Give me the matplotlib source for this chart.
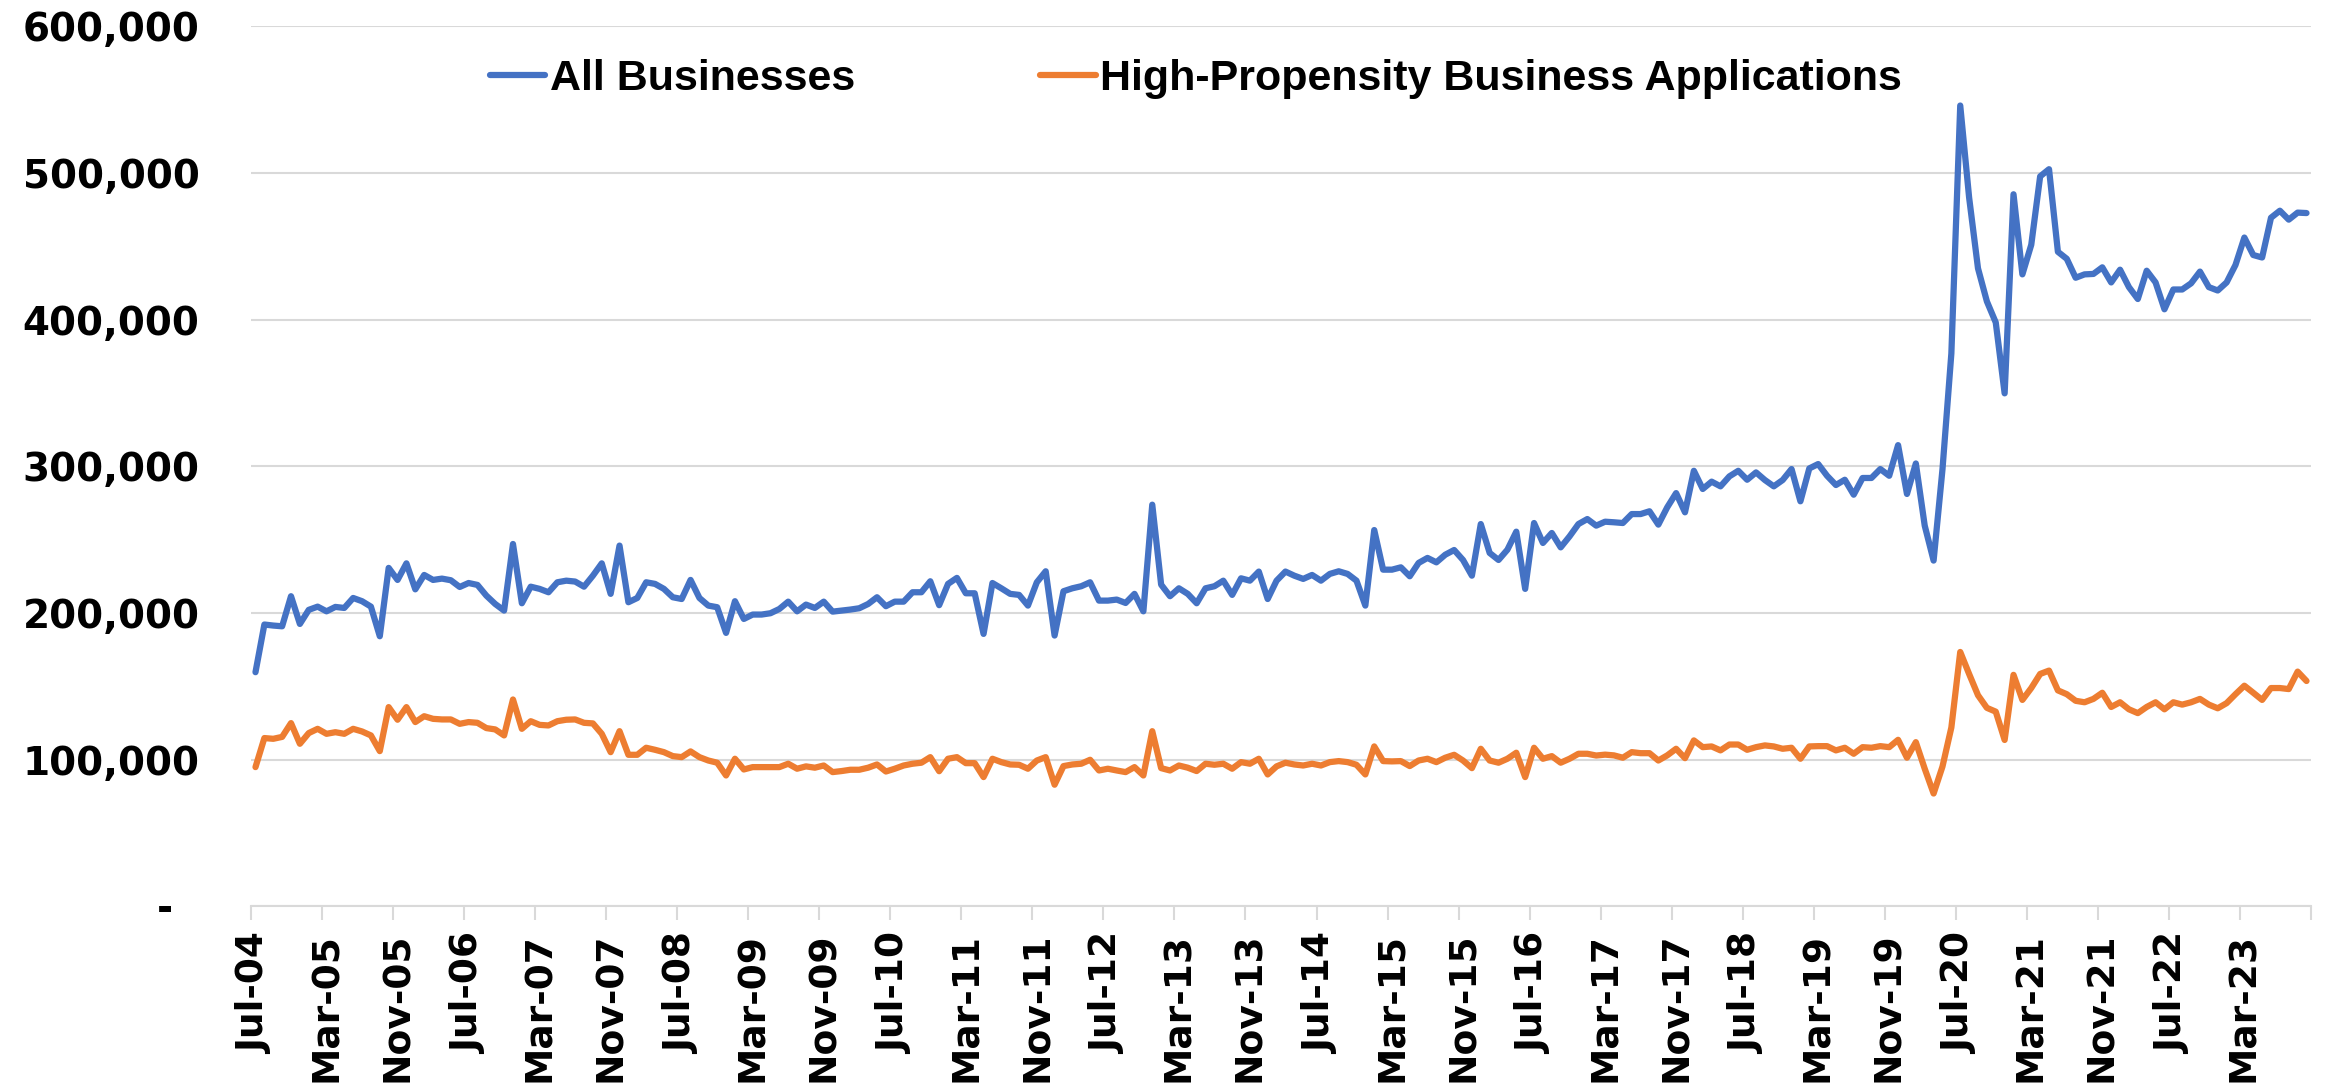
import matplotlib
matplotlib.use('Agg')
import matplotlib.pyplot as plt
import numpy as np
import pandas as pd

# monthly series, Jul-2004 .. Oct-2023 (thousands of applications)
all_businesses = [
    159.7, 192.2, 191.5, 191.0, 211.5, 192.6, 202.2, 204.4, 201.2, 204.2,
    203.5, 210.3, 208.1, 204.4, 184.2, 230.8, 222.6, 233.9, 216.2, 226.0,
    222.6, 223.5, 222.4, 217.8, 220.5, 219.2, 211.9, 206.2, 201.7, 247.1,
    206.7, 218.0, 216.5, 214.2, 221.0, 222.1, 221.5, 218.0, 225.5, 233.9,
    213.1, 246.0, 207.4, 210.3, 221.0, 219.9, 216.5, 210.8, 209.6, 222.6,
    210.3, 205.1, 204.0, 186.5, 208.1, 196.0, 199.0, 199.0, 199.9, 202.8,
    207.8, 201.2, 205.8, 203.5, 207.8, 201.0, 201.7, 202.4, 203.3, 206.2,
    210.8, 204.7, 207.8, 207.8, 214.2, 214.2, 221.7, 205.4, 219.9, 224.0,
    213.5, 213.5, 185.8, 220.5, 216.9, 213.1, 212.4, 205.1, 221.0, 228.5,
    184.7, 214.9, 216.9, 218.3, 221.0, 208.5, 208.5, 209.2, 206.9, 213.1,
    201.2, 273.9, 219.4, 211.5, 216.9, 213.1, 206.7, 216.9, 218.3, 222.1,
    212.4, 223.7, 222.1, 228.3, 209.6, 222.1, 228.3, 225.5, 223.3, 226.0,
    222.1, 226.7, 228.5, 226.7, 222.1, 205.1, 256.6, 229.6, 229.6, 231.2,
    225.1, 234.2, 237.6, 234.6, 239.8, 243.0, 236.2, 225.5, 260.7, 241.0,
    236.2, 243.2, 255.5, 216.5, 261.4, 247.8, 254.6, 244.8, 252.3, 260.7,
    264.1, 259.6, 262.3, 261.9, 261.4, 267.5, 267.5, 269.4, 260.3, 272.1,
    281.8, 268.7, 297.0, 284.6, 289.6, 286.4, 293.2, 297.0, 290.9, 295.9,
    290.7, 286.4, 290.7, 298.2, 276.2, 298.6, 301.6, 293.6, 287.3, 290.9,
    280.7, 292.1, 292.1, 298.2, 293.6, 314.5, 281.2, 302.0, 259.6, 235.8,
    298.0, 377.0, 546.0, 483.3, 435.0, 412.5, 398.1, 349.8, 485.5, 430.9,
    451.1, 497.7, 502.6, 446.3, 441.5, 428.6, 430.9, 431.2, 435.7, 425.4,
    434.1, 422.2, 414.1, 433.4, 425.4, 407.1, 420.6, 420.6, 424.8, 432.8,
    422.2, 419.9, 425.4, 437.3, 456.0, 444.1, 442.4, 469.5, 474.3, 468.2,
    473.0, 472.7,
]

high_propensity = [
    95.0, 114.8, 114.3, 115.6, 125.0, 110.9, 118.2, 121.1, 117.7, 118.8,
    117.7, 121.1, 119.3, 116.6, 105.9, 135.9, 127.3, 135.9, 125.7, 129.7,
    127.9, 127.5, 127.5, 124.5, 125.7, 125.2, 121.6, 120.7, 116.6, 141.1,
    121.1, 126.3, 123.8, 123.4, 126.3, 127.3, 127.5, 125.2, 124.8, 117.7,
    105.2, 119.5, 103.4, 103.4, 108.2, 106.8, 105.2, 102.5, 101.8, 105.7,
    101.8, 99.5, 98.0, 89.3, 100.7, 93.4, 95.0, 95.0, 95.0, 95.0,
    97.3, 93.9, 95.5, 94.6, 96.1, 91.6, 92.3, 93.2, 93.2, 94.6,
    96.8, 92.0, 93.9, 96.1, 97.3, 98.0, 101.8, 92.2, 100.7, 101.8,
    97.7, 97.7, 88.2, 100.7, 98.4, 96.8, 96.6, 93.9, 99.5, 101.8,
    83.0, 95.7, 96.8, 97.3, 100.0, 92.7, 93.9, 92.7, 91.6, 95.0,
    89.3, 119.5, 94.3, 92.7, 96.1, 94.6, 92.3, 97.3, 96.6, 97.3,
    93.9, 98.4, 97.3, 100.7, 90.0, 95.5, 98.0, 96.8, 96.1, 97.3,
    96.1, 98.4, 99.1, 98.4, 96.6, 90.0, 109.1, 99.1, 98.9, 99.1,
    95.7, 99.5, 100.7, 98.4, 101.4, 103.4, 99.5, 94.3, 107.5, 99.5,
    98.0, 100.7, 104.8, 88.2, 108.2, 100.7, 102.5, 98.0, 100.7, 104.1,
    104.1, 102.9, 103.5, 103.0, 101.4, 105.2, 104.5, 104.5, 99.5, 103.0,
    107.5, 101.1, 113.2, 108.6, 109.1, 106.4, 110.4, 110.4, 106.8, 108.6,
    109.8, 109.1, 107.5, 108.2, 100.7, 109.1, 109.3, 109.3, 106.4, 108.2,
    104.1, 108.6, 108.2, 109.3, 108.6, 113.6, 101.4, 112.0, 93.9, 77.0,
    95.4, 122.0, 173.5, 158.5, 144.0, 135.4, 132.8, 113.5, 157.9, 140.8,
    148.9, 158.5, 160.8, 147.3, 144.7, 140.2, 139.2, 141.5, 145.7, 136.0,
    139.2, 134.4, 131.8, 136.0, 139.2, 134.4, 139.2, 137.6, 139.2, 141.5,
    137.6, 135.1, 138.6, 144.7, 150.5, 145.7, 140.8, 148.9, 148.9, 148.2,
    160.1, 153.7,
]

months = pd.date_range('2004-07-01', periods=len(all_businesses), freq='MS')
tick_labels = [m.strftime('%b-%y') for m in months[::8]]
y_ticks = [0, 100000, 200000, 300000, 400000, 500000, 600000]
y_tick_labels = ['-  '] + [f'{v:,}' for v in y_ticks[1:]]

series_names = ['All Businesses', 'High-Propensity Business Applications']
colors = ['#4472C4', '#ED7D31']

fig = plt.figure(figsize=(23.31, 10.92), dpi=100)
ax = fig.add_axes([0.1077, 0.1699, 0.9914 - 0.1077, 0.9759 - 0.1699])

x = np.arange(len(months))
ax.plot(x, np.array(all_businesses) * 1000, color=colors[0], lw=4.5,
        solid_joinstyle='round', solid_capstyle='round',
        label=series_names[0], zorder=3)
ax.plot(x, np.array(high_propensity) * 1000, color=colors[1], lw=4.5,
        solid_joinstyle='round', solid_capstyle='round',
        label=series_names[1], zorder=3)

ax.set_xlim(-0.5, len(months) - 0.5)
ax.set_ylim(0, 600000)

# y axis
ax.set_yticks(y_ticks)
ax.set_yticklabels(y_tick_labels, fontsize=28, fontweight='bold', family='DejaVu Sans')
ax.tick_params(axis='y', length=0, pad=37)
ax.grid(axis='y', color='#d9d9d9', lw=1.5, zorder=0)

# x axis: labels on category centres, tick marks on boundaries
ax.set_xticks(x[::8])
ax.set_xticklabels(tick_labels, rotation=90, fontsize=27, fontweight='bold',
                   family='DejaVu Sans')
ax.tick_params(axis='x', which='major', length=0, pad=19)
ax.set_xticks(np.arange(-0.5, len(months), 8), minor=True)
ax.tick_params(axis='x', which='minor', length=10, width=1.5, color='#d9d9d9',
               direction='out')

for side in ['top', 'right', 'left']:
    ax.spines[side].set_visible(False)
ax.spines['bottom'].set_color('#d9d9d9')
ax.spines['bottom'].set_linewidth(1.5)

leg = fig.legend(loc='center left', bbox_to_anchor=(0.210, 0.928), ncol=2,
                 frameon=False, borderpad=0, borderaxespad=0,
                 handlelength=1.3, handletextpad=0.1, columnspacing=4.3,
                 prop={'family': 'Liberation Sans', 'weight': 'bold', 'size': 31})

fig.savefig('out.png', dpi=100)
